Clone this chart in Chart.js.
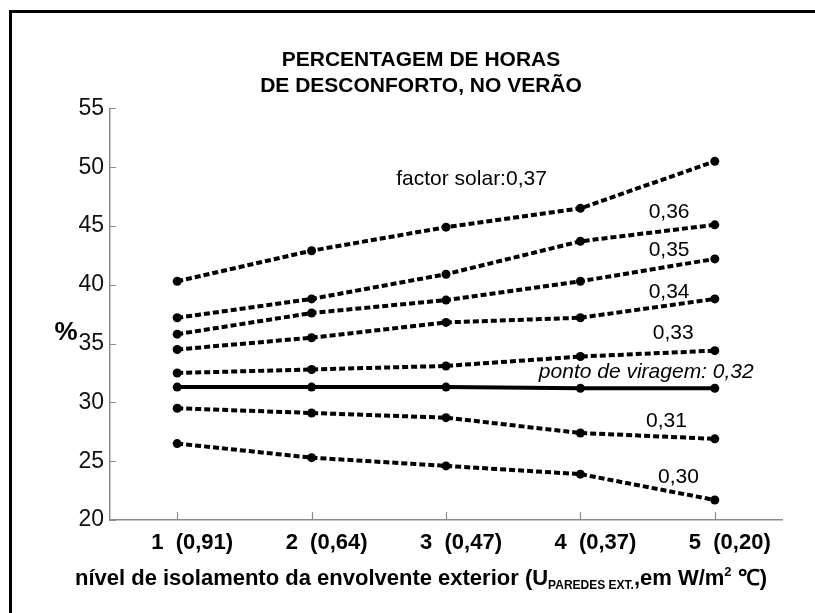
<!DOCTYPE html>
<html>
<head>
<meta charset="utf-8">
<script src="https://cdn.jsdelivr.net/npm/chart.js@4"></script>
<style>
  html, body { margin: 0; padding: 0; background: #fff; }
  #wrap { position: relative; width: 815px; height: 613px; }
  #moldura { position: absolute; left: 9px; top: 10px; right: 0; bottom: 0;
             border-top: 3px solid #000; border-left: 3px solid #000; pointer-events: none; }
</style>
</head>
<body>
<div id="wrap">
  <canvas id="desconforto" width="815" height="613"></canvas>
  <div id="moldura"></div>
</div>
<script>
// nivel de isolamento (U paredes ext.)
var niveis = ["1  (0,91)", "2  (0,64)", "3  (0,47)", "4  (0,37)", "5  (0,20)"];

// % de horas de desconforto por factor solar
var fs037 = [40.3, 42.9, 44.9, 46.5, 50.5];
var fs036 = [37.2, 38.8, 40.9, 43.7, 45.1];
var fs035 = [35.8, 37.6, 38.7, 40.3, 42.2];
var fs034 = [34.5, 35.5, 36.8, 37.2, 38.8];
var fs033 = [32.5, 32.8, 33.1, 33.9, 34.4];
var fs032 = [31.3, 31.3, 31.3, 31.2, 31.2];
var fs031 = [29.5, 29.1, 28.7, 27.4, 26.9];
var fs030 = [26.5, 25.3, 24.6, 23.9, 21.7];

var yMin = 20, yMax = 55, yStep = 5;

var fonte = "'Liberation Sans', Arial, Helvetica, sans-serif";

// nome de cada curva, escrito junto a ela
var series = [
    {nome: "factor solar:0,37", dados: fs037},
    {nome: "0,36", dados: fs036},
    {nome: "0,35", dados: fs035},
    {nome: "0,34", dados: fs034},
    {nome: "0,33", dados: fs033},
    {nome: "ponto de viragem: 0,32", dados: fs032, viragem: true},
    {nome: "0,31", dados: fs031},
    {nome: "0,30", dados: fs030}
];

// onde fica cada nome (indice do nivel, valor em %)
var posNomes = [
    [2.19, 49.0],
    [3.66, 46.2],
    [3.66, 42.9],
    [3.66, 39.4],
    [3.69, 35.9],
    [3.49, 32.6],
    [3.64, 28.4],
    [3.73, 23.6]
];

var datasets = series.map(function(s) {
    return {
        label: s.nome,
        data: s.dados,
        borderColor: '#000',
        borderWidth: 4,
        borderDash: s.viragem ? [] : [6, 3],
        pointRadius: 4.5,
        pointBackgroundColor: '#000',
        pointBorderWidth: 0,
        tension: 0,
        fill: false
    };
});

var marcasEixos = {
    id: 'marcasEixos',
    beforeDatasetsDraw: function(chart) {
        var ctx = chart.ctx, a = chart.chartArea, x = chart.scales.x, y = chart.scales.y;
        ctx.save();
        ctx.strokeStyle = '#8c8c8c';
        ctx.lineWidth = 1.2;
        ctx.beginPath();
        y.ticks.forEach(function(t, i) {
            var py = Math.round(y.getPixelForTick(i)) + 0.5;
            ctx.moveTo(a.left, py);
            ctx.lineTo(a.left + 6, py);
        });
        x.ticks.forEach(function(t, i) {
            var px = Math.round(x.getPixelForTick(i)) + 0.5;
            ctx.moveTo(px, a.bottom);
            ctx.lineTo(px, a.bottom - 8);
        });
        ctx.stroke();
        ctx.restore();
    }
};

var textos = {
    id: 'textos',
    afterDraw: function(chart) {
        var ctx = chart.ctx, a = chart.chartArea, x = chart.scales.x, y = chart.scales.y;
        ctx.save();
        ctx.fillStyle = '#000';
        ctx.textBaseline = 'middle';
        ctx.textAlign = 'center';

        // nomes das curvas
        series.forEach(function(s, i) {
            ctx.font = (s.viragem ? 'italic ' : '') + '21px ' + fonte;
            ctx.fillText(s.nome, x.getPixelForValue(posNomes[i][0]), y.getPixelForValue(posNomes[i][1]));
        });

        // "%" do eixo vertical
        ctx.font = 'bold 26px ' + fonte;
        ctx.fillText('%', a.left - 44, y.getPixelForValue(35.9));

        // titulo do eixo horizontal, com indice e expoente
        var partes = [
            {t: 'nível de isolamento da envolvente exterior (U', f: 'bold 22px ', dy: 0},
            {t: 'PAREDES EXT.', f: 'bold 12px ', dy: 4},
            {t: ',em W/m', f: 'bold 22px ', dy: 0},
            {t: '2', f: 'bold 13px ', dy: -9},
            {t: ' \u2103)', f: 'bold 22px ', dy: 0}
        ];
        var total = 0;
        partes.forEach(function(p) {
            ctx.font = p.f + fonte;
            p.w = ctx.measureText(p.t).width;
            total += p.w;
        });
        var cx = (a.left - 50 + a.right) / 2;
        var px = cx - total / 2, base = a.bottom + 65;
        ctx.textAlign = 'left';
        ctx.textBaseline = 'alphabetic';
        partes.forEach(function(p) {
            ctx.font = p.f + fonte;
            ctx.fillText(p.t, px, base + p.dy);
            px += p.w;
        });
        ctx.restore();
    }
};

var ctx1 = document.getElementById("desconforto");
new Chart(ctx1, {
    type: 'line',
    data: {labels: niveis, datasets: datasets},
    options: {
        responsive: false,
        animation: false,
        layout: {padding: {left: 60, right: 33, top: 0, bottom: 0}},
        plugins: {
            legend: {display: false},
            tooltip: {enabled: false},
            title: {
                display: true,
                text: ["PERCENTAGEM DE HORAS", "DE DESCONFORTO, NO VERÃO"],
                color: '#000',
                font: {family: fonte, size: 21, weight: 'bold'},
                padding: {top: 48, bottom: 10}
            }
        },
        scales: {
            x: {
                type: 'category',
                offset: true,
                grid: {display: false, drawTicks: false},
                border: {display: true, color: '#8c8c8c', width: 1.5},
                ticks: {
                    color: '#000',
                    font: {family: fonte, size: 22, weight: 'bold'},
                    padding: 10,
                    labelOffset: 15,
                    maxRotation: 0,
                    autoSkip: false
                },
                afterFit: function(s) { s.height = 93; }
            },
            y: {
                min: yMin,
                max: yMax,
                grid: {display: false, drawTicks: false},
                border: {display: true, color: '#8c8c8c', width: 1.5},
                ticks: {
                    stepSize: yStep,
                    color: '#111',
                    font: {family: fonte, size: 23},
                    padding: 6
                },
                afterFit: function(s) { s.width = 50; }
            }
        }
    },
    plugins: [marcasEixos, textos]
});
</script>
</body>
</html>
